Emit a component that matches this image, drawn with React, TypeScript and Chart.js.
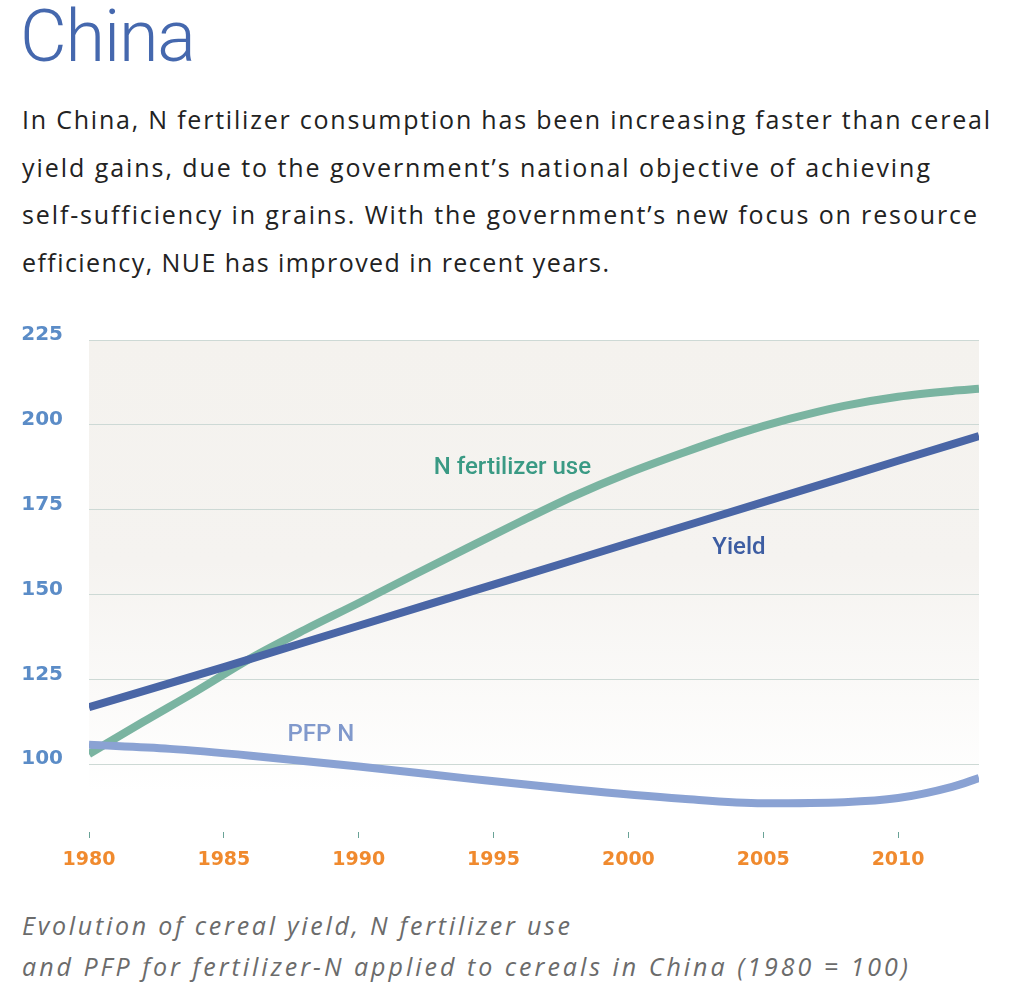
import React, { useEffect, useLayoutEffect, useRef } from "react";
import { Chart, registerables } from "chart.js";

Chart.register(...registerables);

// ---- data ----
const fertYears = [1980, 1982, 1984, 1986, 1988, 1990, 1992, 1994, 1996, 1998, 2000, 2002, 2004, 2006, 2008, 2010, 2012, 2013];
const fertValues = [103, 112.4, 121.6, 131.2, 139.6, 147.5, 155.6, 163.6, 171.5, 179.1, 185.8, 191.7, 197.2, 201.8, 205.6, 208.3, 210, 210.6];

const yieldYears = [1980, 1985, 1990, 1995, 2000, 2005, 2010, 2013];
const yieldValues = [116.8, 128.6, 140.8, 152.9, 165.1, 177.2, 189.4, 196.7];

const pfpYears = [1980, 1983, 1986, 1990, 1994, 1998, 2002, 2005, 2008, 2010, 2012, 2013];
const pfpValues = [105.7, 104.5, 102.5, 99.3, 95.8, 92.5, 89.8, 88.5, 88.8, 90, 93.3, 95.9];

const xTickYears = [1980, 1985, 1990, 1995, 2000, 2005, 2010];
const yTickValues = [100, 125, 150, 175, 200, 225];

const seriesLabels = [
  { text: "N fertilizer use", x: 1995.7, y: 187.3, color: "#3a9a84" },
  { text: "Yield", x: 2004.1, y: 163.7, color: "#3d5da2" },
  { text: "PFP N", x: 1988.6, y: 108.5, color: "#8199cc" },
];

const introLines = [
  "In China, N fertilizer consumption has been increasing faster than cereal",
  "yield gains, due to the government’s national objective of achieving",
  "self-sufficiency in grains. With the government’s new focus on resource",
  "efficiency, NUE has improved in recent years.",
];
const introWidths = [968, 908, 955, 587];

const captionLines = [
  "Evolution of cereal yield, N fertilizer use",
  "and PFP for fertilizer-N applied to cereals in China (1980 = 100)",
];
const captionWidths = [548, 886];

const toPoints = (xs: number[], ys: number[]) => xs.map((x, i) => ({ x, y: ys[i] }));

const bgPlugin = {
  id: "bgGradient",
  beforeDraw(chart: any) {
    const { ctx, chartArea: a } = chart;
    const g = ctx.createLinearGradient(0, a.top, 0, a.bottom);
    g.addColorStop(0, "#f4f2ee");
    g.addColorStop(0.45, "#f5f3f0");
    g.addColorStop(0.92, "#ffffff");
    ctx.save();
    ctx.fillStyle = g;
    ctx.fillRect(a.left, a.top, a.right - a.left, a.bottom - a.top);
    ctx.restore();
  },
};

const labelPlugin = {
  id: "seriesLabels",
  afterDatasetsDraw(chart: any) {
    const { ctx, scales } = chart;
    ctx.save();
    ctx.font = "500 24px Roboto";
    ctx.textAlign = "center";
    ctx.textBaseline = "middle";
    for (const l of seriesLabels) {
      ctx.fillStyle = l.color;
      ctx.fillText(l.text, scales.x.getPixelForValue(l.x), scales.y.getPixelForValue(l.y));
    }
    ctx.restore();
  },
};

function fitLines(container: HTMLElement | null) {
  if (!container) return;
  const spans = Array.from(container.querySelectorAll("span[data-w]")) as HTMLElement[];
  for (const s of spans) {
    s.style.letterSpacing = "0px";
    const w = s.getBoundingClientRect().width;
    const target = Number(s.dataset.w);
    const n = (s.textContent || "").length;
    const ls = n > 1 ? (target - w) / (n - 1) : 0;
    s.style.letterSpacing = ls.toFixed(3) + "px";
  }
}

export default function App() {
  const ref = useRef<HTMLCanvasElement | null>(null);
  const rootRef = useRef<HTMLDivElement | null>(null);

  useLayoutEffect(() => {
    fitLines(rootRef.current);
    const fonts: any = (document as any).fonts;
    if (fonts && fonts.ready) fonts.ready.then(() => fitLines(rootRef.current));
  }, []);

  useEffect(() => {
    if (!ref.current) return;
    const common = {
      fill: false,
      pointRadius: 0,
      pointHoverRadius: 0,
      cubicInterpolationMode: "monotone" as const,
      borderCapStyle: "butt" as const,
    };
    const chart = new Chart(ref.current, {
      type: "line",
      data: {
        datasets: [
          { ...common, label: "PFP N", data: toPoints(pfpYears, pfpValues), borderColor: "#8aa2d3", borderWidth: 8 },
          { ...common, label: "Yield", data: toPoints(yieldYears, yieldValues), borderColor: "#4a66a6", borderWidth: 8 },
          { ...common, label: "N fertilizer use", data: toPoints(fertYears, fertValues), borderColor: "#7ab4a1", borderWidth: 8 },
        ],
      },
      options: {
        animation: false,
        responsive: false,
        events: [],
        layout: { padding: { top: 40, right: 45, left: 0, bottom: 0 } },
        plugins: { legend: { display: false }, tooltip: { enabled: false }, title: { display: false } },
        scales: {
          x: {
            type: "linear",
            min: 1980,
            max: 2013,
            afterBuildTicks: (s: any) => {
              s.ticks = xTickYears.map((v) => ({ value: v }));
            },
            afterFit: (s: any) => {
              s.height = 48;
            },
            border: { display: false },
            grid: { drawOnChartArea: false, drawTicks: true, tickLength: 6, tickColor: "#6aa397", lineWidth: 1 },
            ticks: {
              padding: 11,
              color: "#f08a2e",
              font: { family: "DejaVu Sans", weight: "bold", size: 19 },
              callback: (v: any) => String(v),
              maxRotation: 0,
              autoSkip: false,
            },
          },
          y: {
            min: 80,
            max: 225,
            afterBuildTicks: (s: any) => {
              s.ticks = yTickValues.map((v) => ({ value: v }));
            },
            afterFit: (s: any) => {
              s.width = 89;
            },
            border: { display: false },
            grid: { drawTicks: false, color: "#cdd9d5", lineWidth: 1 },
            ticks: {
              padding: 26,
              labelOffset: -5,
              color: "#5b8cc7",
              font: { family: "DejaVu Sans", weight: "bold", size: 20 },
              callback: (v: any) => String(v),
            },
          },
        },
      },
      plugins: [bgPlugin, labelPlugin],
    });
    return () => chart.destroy();
  }, []);

  return (
    <div
      ref={rootRef}
      style={{ position: "absolute", left: 0, top: 0, width: 1024, height: 1003, background: "#fff", overflow: "hidden" }}
    >
      <div
        style={{
          position: "absolute",
          left: 20,
          top: 1,
          fontFamily: "Roboto",
          fontWeight: 300,
          fontSize: 72,
          lineHeight: "72px",
          letterSpacing: "-1.2px",
          color: "#4568ae",
          whiteSpace: "nowrap",
        }}
      >
        China
      </div>
      <div
        style={{
          position: "absolute",
          left: 22,
          top: 96,
          fontFamily: "'Open Sans'",
          fontWeight: 400,
          fontSize: 25,
          lineHeight: "47.7px",
          color: "#222",
          whiteSpace: "nowrap",
        }}
      >
        {introLines.map((t, i) => (
          <div key={i}>
            <span data-w={introWidths[i]}>{t}</span>
          </div>
        ))}
      </div>
      <div style={{ position: "absolute", left: 0, top: 300, width: 1024, height: 580 }}>
        <canvas ref={ref} width={1024} height={580} style={{ display: "block" }} />
      </div>
      <div
        style={{
          position: "absolute",
          left: 22,
          top: 905,
          fontFamily: "'Open Sans'",
          fontStyle: "italic",
          fontWeight: 400,
          fontSize: 25,
          lineHeight: "41px",
          color: "#6b6b6b",
          whiteSpace: "nowrap",
        }}
      >
        {captionLines.map((t, i) => (
          <div key={i}>
            <span data-w={captionWidths[i]}>{t}</span>
          </div>
        ))}
      </div>
    </div>
  );
}
